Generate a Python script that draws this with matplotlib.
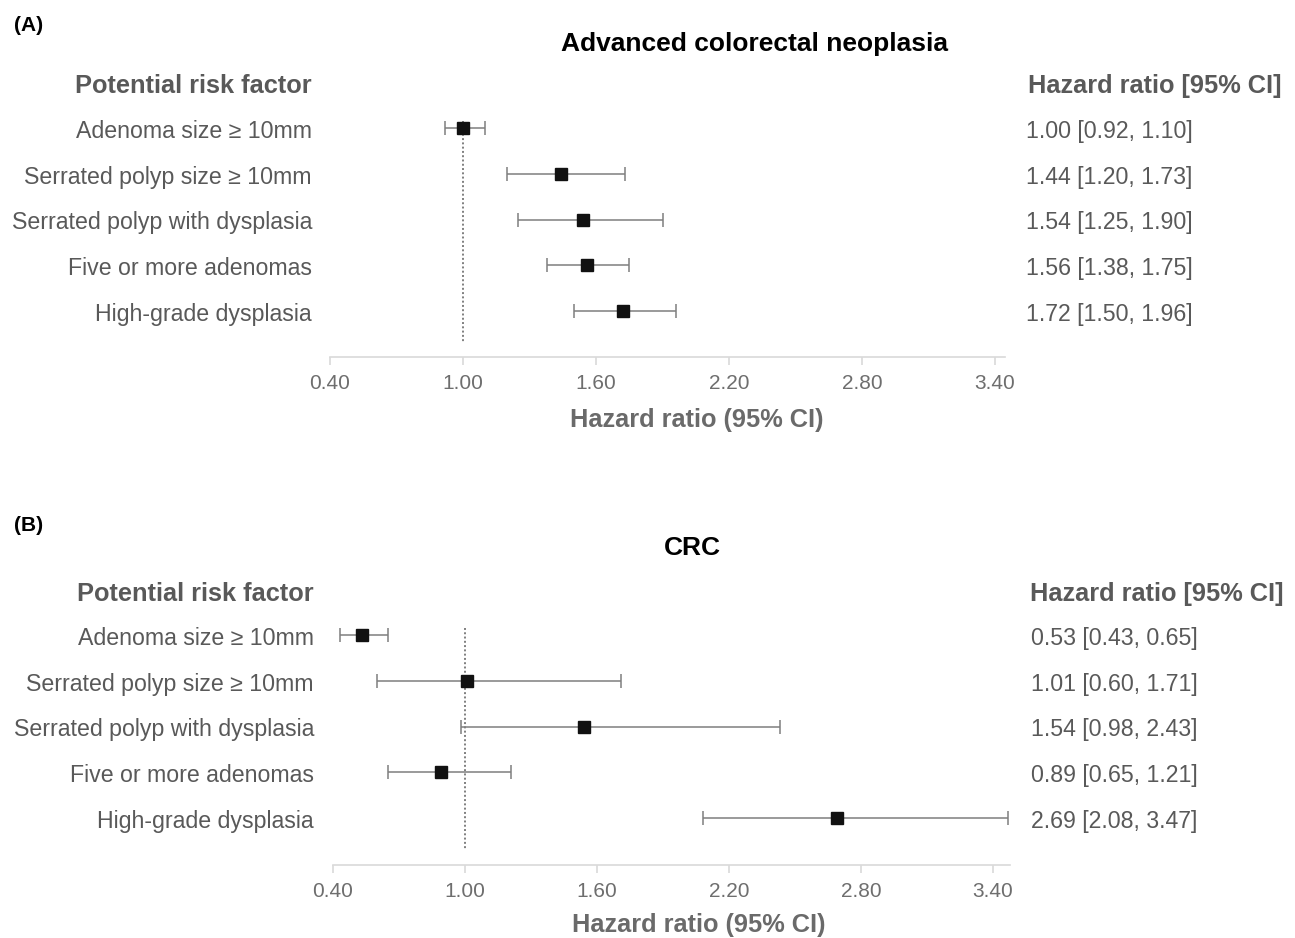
import matplotlib
matplotlib.use("Agg")
import matplotlib.pyplot as plt

plt.rcParams['font.family'] = ['Liberation Sans', 'DejaVu Sans']

factors = ["Adenoma size ≥ 10mm", "Serrated polyp size ≥ 10mm", "Serrated polyp with dysplasia",
           "Five or more adenomas", "High-grade dysplasia"]

hr_a = [1.00, 1.44, 1.54, 1.56, 1.72]
lo_a = [0.92, 1.20, 1.25, 1.38, 1.50]
hi_a = [1.10, 1.73, 1.90, 1.75, 1.96]

hr_b = [0.53, 1.01, 1.54, 0.89, 2.69]
lo_b = [0.43, 0.60, 0.98, 0.65, 2.08]
hi_b = [0.65, 1.71, 2.43, 1.21, 3.47]

xticks = [0.40, 1.00, 1.60, 2.20, 2.80, 3.40]
xtick_labels = ["0.40", "1.00", "1.60", "2.20", "2.80", "3.40"]

W, H = 1295, 938
fig = plt.figure(figsize=(W / 100, H / 100), dpi=100)

GRAY = "#595959"
TICKGRAY = "#6e6e6e"
XLGRAY = "#6a6a6a"
ECOL = "#7f7f7f"
SPINE = "#d9d9d9"

NORMAL = 16.7
BOLD = 18.3


def px(x, y):
    return x / W, 1 - y / H


def txt(x, yc, s, size, ha="left", weight="normal", color=GRAY):
    """Place text so that its capital letters are centred on pixel row yc."""
    yb = yc + 0.358 * size * 100 / 72
    fig.text(*px(x, yb), s, fontsize=size, fontweight=weight, color=color,
             ha=ha, va="baseline")


def panel(tag, title, hr, lo, hi, ax_l, ax_r, ax_top, ax_bot, xmax, row0, rowspacing,
          marker0, tag_xy, title_xy, head_y, label_right, val_left, hr_head_right, xlabel_xy):
    left, bottom = px(ax_l, ax_bot)
    ax = fig.add_axes([left, bottom, (ax_r - ax_l) / W, (ax_bot - ax_top) / H])
    n = len(hr)
    ys = list(range(n))
    ax.set_ylim((ax_bot - marker0) / rowspacing, (ax_top - marker0) / rowspacing)
    ax.set_xlim(0.4, xmax)
    xerr = [[h - l for h, l in zip(hr, lo)], [u - h for h, u in zip(hr, hi)]]
    ax.plot([1.0, 1.0], [-0.15, 4.7], color="#7f7f7f", lw=1.4, ls=(0, (1, 1.2)), zorder=1)
    ax.errorbar(hr, ys, xerr=xerr, fmt='s', color="#111111", ms=8, ecolor=ECOL,
                elinewidth=1.1, capsize=5, capthick=1.1, zorder=3)
    for s in ["top", "right", "left"]:
        ax.spines[s].set_visible(False)
    ax.spines["bottom"].set_color(SPINE)
    ax.spines["bottom"].set_linewidth(1.2)
    ax.set_yticks([])
    ax.set_xticks(xticks)
    ax.set_xticklabels(xtick_labels)
    ax.tick_params(axis="x", colors=SPINE, length=6, width=1.2, labelcolor=TICKGRAY,
                   labelsize=15, pad=6)
    ax.patch.set_alpha(0)

    txt(tag_xy[0], tag_xy[1], tag, 15, weight="bold", color="black")
    txt(title_xy[0], title_xy[1], title, 19, ha="center", weight="bold", color="black")
    txt(label_right, head_y, "Potential risk factor", BOLD, ha="right", weight="bold")
    txt(hr_head_right, head_y, "Hazard ratio [95% CI]", BOLD, ha="right", weight="bold")
    for i in range(n):
        y = row0 + i * rowspacing
        txt(label_right, y, factors[i], NORMAL, ha="right")
        txt(val_left, y, f"{hr[i]:.2f} [{lo[i]:.2f}, {hi[i]:.2f}]", NORMAL)
    txt(xlabel_xy[0], xlabel_xy[1], "Hazard ratio (95% CI)", BOLD, ha="center", weight="bold",
        color=XLGRAY)


panel("(A)", "Advanced colorectal neoplasia", hr_a, lo_a, hi_a,
      ax_l=330, ax_r=1005, ax_top=105, ax_bot=357, xmax=3.445, row0=129.5, rowspacing=45.8,
      marker0=128, tag_xy=(14, 24), title_xy=(755, 42), head_y=83.5, label_right=312,
      val_left=1026, hr_head_right=1282, xlabel_xy=(697, 418))

panel("(B)", "CRC", hr_b, lo_b, hi_b,
      ax_l=333, ax_r=1010, ax_top=612, ax_bot=865, xmax=3.477, row0=636.5, rowspacing=45.8,
      marker0=635, tag_xy=(14, 524), title_xy=(692, 546), head_y=592, label_right=314,
      val_left=1031, hr_head_right=1284, xlabel_xy=(699, 923))

fig.savefig("out.png", dpi=100)
